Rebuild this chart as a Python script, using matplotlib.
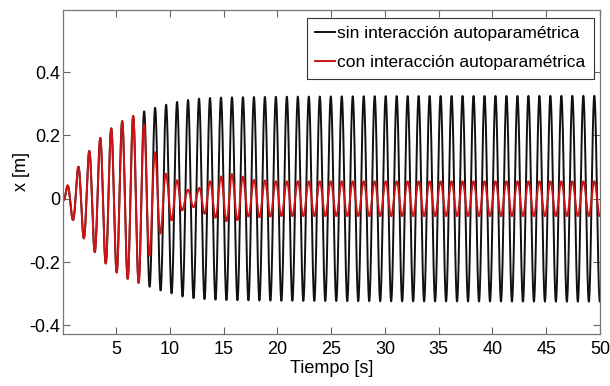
import numpy as np
import matplotlib
matplotlib.use('Agg')
import matplotlib.pyplot as plt

plt.rcParams['font.family'] = ['Liberation Sans', 'DejaVu Sans']
plt.rcParams['axes.unicode_minus'] = False

# oscillation: period and time of the first crest
period = 1.0216
first_peak = 0.44

# envelope (|x| at each crest / trough), common start of both responses
growth_t = [0.0, 0.44, 1.0, 1.53, 2.02, 2.55, 3.07, 3.56, 4.09, 4.61, 5.11, 5.63, 6.09, 6.62, 7.18]
growth_amp = [0.0, 0.041, 0.069, 0.105, 0.127, 0.154, 0.171, 0.194, 0.206, 0.225, 0.234, 0.247, 0.253, 0.262, 0.266]

# sin interaccion autoparametrica
sin_t = [7.64, 8.17, 8.66, 9.2, 9.7, 10.2, 10.7, 11.7, 12.7, 13.7, 15.3, 20.0, 30.0, 50.0]
sin_amp = [0.277, 0.278, 0.288, 0.29, 0.298, 0.299, 0.306, 0.312, 0.316, 0.318, 0.32, 0.322, 0.324, 0.325]

# con interaccion autoparametrica
con_t = [7.64, 8.17, 8.66, 9.28, 9.7, 10.3, 10.8, 11.3, 11.8, 12.4, 12.7, 13.3, 13.7, 14.3,
         14.6, 15.3, 15.7, 16.3, 16.7, 17.3, 17.7, 20.0, 50.0]
con_amp = [0.232, 0.171, 0.144, 0.098, 0.075, 0.066, 0.055, 0.029, 0.028, 0.026, 0.034, 0.05,
           0.055, 0.061, 0.07, 0.071, 0.079, 0.067, 0.072, 0.056, 0.06, 0.055, 0.055]

xticks = [5, 10, 15, 20, 25, 30, 35, 40, 45, 50]
yticks = [-0.4, -0.2, 0, 0.2, 0.4]
ytick_labels = ['-0.4', '-0.2', '0', '0.2', '0.4']

t = np.linspace(0, 50, 8001)
w = 2 * np.pi / period
carrier = np.sin(w * (t - first_peak) + np.pi / 2)
env_sin = np.interp(t, growth_t + sin_t, growth_amp + sin_amp)
env_con = np.interp(t, growth_t + con_t, growth_amp + con_amp)

fig = plt.figure(figsize=(6.10, 3.86), dpi=100)
ax = fig.add_axes([0.1025, 0.134, 0.881, 0.841])

ax.plot(t, env_sin * carrier, color='#111111', lw=1.4, label='sin interacción autoparamétrica')
ax.plot(t, env_con * carrier, color='#cc1414', lw=1.4, label='con interacción autoparamétrica')

ax.set_xlim(0, 50)
ax.set_ylim(-0.428, 0.597)
ax.set_xticks(xticks)
ax.set_xticklabels([str(v) for v in xticks])
ax.set_yticks(yticks)
ax.set_yticklabels(ytick_labels)
ax.tick_params(direction='in', top=True, right=True, length=5, width=0.8,
               color='#666666', labelsize=13)
ax.tick_params(axis='x', pad=5)
ax.tick_params(axis='y', pad=1.5)
for s in ax.spines.values():
    s.set_color('#777777')
    s.set_linewidth(0.9)

ax.set_xlabel('Tiempo [s]', fontsize=13, labelpad=1)
ax.set_ylabel('x [m]', fontsize=13, labelpad=0)

leg = ax.legend(loc='upper right', bbox_to_anchor=(0.989, 0.975), borderaxespad=0,
                fontsize=12.5, handlelength=1.15, handletextpad=0.15,
                labelspacing=0.8, borderpad=0.48, fancybox=False, framealpha=1)
leg.get_frame().set_edgecolor('#333333')
leg.get_frame().set_linewidth(0.8)

fig.savefig('out.png', dpi=100)
